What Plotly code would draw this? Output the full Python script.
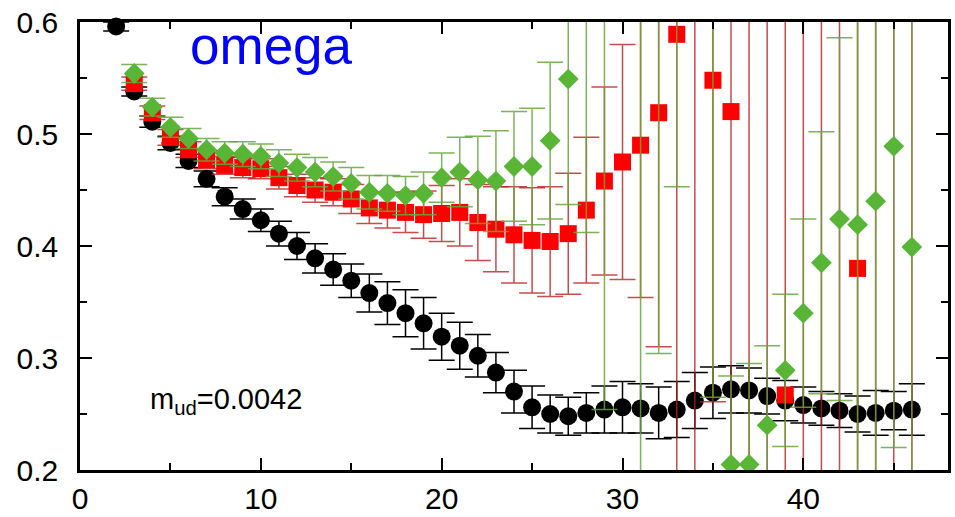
import plotly.graph_objects as go

# Effective-mass data, m_ud = 0.0042 (omega channel)
t_black = list(range(2, 47))
m_black = [0.596, 0.538, 0.511, 0.492, 0.476, 0.460, 0.444, 0.433, 0.423, 0.411,
           0.400, 0.389, 0.379, 0.369, 0.358, 0.349, 0.340, 0.331, 0.319, 0.311,
           0.302, 0.287, 0.270, 0.256, 0.250, 0.248, 0.251, 0.254, 0.256, 0.255,
           0.251, 0.254, 0.262, 0.269, 0.272, 0.271, 0.266, 0.262, 0.258, 0.255,
           0.253, 0.250, 0.251, 0.253, 0.254]
e_black = [0.004, 0.004, 0.005, 0.006, 0.006, 0.007, 0.008, 0.009, 0.010, 0.011,
           0.012, 0.013, 0.014, 0.015, 0.017, 0.019, 0.021, 0.023, 0.021, 0.021,
           0.019, 0.018, 0.019, 0.019, 0.017, 0.017, 0.018, 0.021, 0.023, 0.022,
           0.023, 0.025, 0.025, 0.023, 0.021, 0.020, 0.016, 0.018, 0.016, 0.015,
           0.015, 0.016, 0.020, 0.017, 0.023]

t_red = list(range(3, 47))
m_red = [0.545, 0.519, 0.497, 0.486, 0.477, 0.472, 0.470, 0.469, 0.461, 0.454,
         0.450, 0.448, 0.442, 0.434, 0.432, 0.430, 0.428, 0.429, 0.430, 0.421,
         0.415, 0.410, 0.405, 0.404, 0.411, 0.432, 0.458, 0.475, 0.490, 0.519,
         0.589, 0.700, 0.548, 0.520, 0.700, 0.700, 0.267, 0.700, 0.700, 0.700,
         0.380, 0.700, 0.700, 0.700]
e_red = [0.006, 0.006, 0.007, 0.007, 0.008, 0.008, 0.009, 0.009, 0.010, 0.010,
         0.011, 0.012, 0.013, 0.014, 0.016, 0.018, 0.021, 0.025, 0.030, 0.034,
         0.038, 0.043, 0.047, 0.049, 0.054, 0.065, 0.084, 0.105, 0.136, 0.209,
         0.450, 0.600, 0.287, 0.400, 0.600, 0.600, 0.450, 0.600, 0.600, 0.600,
         0.450, 0.600, 0.600, 0.600]

t_green = list(range(3, 47))
m_green = [0.554, 0.524, 0.506, 0.496, 0.486, 0.483, 0.482, 0.480, 0.474, 0.470,
           0.466, 0.462, 0.456, 0.448, 0.447, 0.445, 0.447, 0.461, 0.466, 0.459,
           0.458, 0.471, 0.471, 0.494, 0.549, 0.630, 0.640, None, 0.660, 0.650,
           0.680, None, 0.660, 0.205, 0.205, 0.240, 0.289, 0.340, 0.385, 0.424,
           0.419, 0.440, 0.489, 0.399]
e_green = [0.008, 0.008, 0.009, 0.009, 0.010, 0.010, 0.011, 0.011, 0.012, 0.012,
           0.013, 0.013, 0.014, 0.015, 0.016, 0.017, 0.019, 0.022, 0.031, 0.039,
           0.045, 0.049, 0.052, 0.070, 0.112, 0.218, 0.386, 0.0, 0.550, 0.346,
           0.227, 0.0, 0.395, 0.079, 0.090, 0.071, 0.068, 0.084, 0.117, 0.162,
           0.300, 0.300, 0.269, 0.300]

x_ticks = [0, 10, 20, 30, 40]
y_ticks = [0.2, 0.3, 0.4, 0.5, 0.6]

FONT = "Liberation Sans, Arial, Helvetica, sans-serif"

fig = go.Figure()

fig.add_trace(go.Scatter(
    x=t_black, y=m_black, mode="markers",
    marker=dict(symbol="circle", size=18, color="black"),
    error_y=dict(type="data", array=e_black, color="black", thickness=1.5, width=13),
    cliponaxis=False,
))
fig.add_trace(go.Scatter(
    x=t_red, y=m_red, mode="markers",
    marker=dict(symbol="square", size=17, color="#ff0000"),
    error_y=dict(type="data", array=e_red, color="rgba(185,30,30,0.8)", thickness=1.5, width=13),
))
fig.add_trace(go.Scatter(
    x=t_green, y=m_green, mode="markers",
    marker=dict(symbol="diamond", size=16, color="#58b535"),
    error_y=dict(type="data", array=e_green, color="rgba(105,165,60,0.85)", thickness=1.5, width=13),
))

axis_common = dict(
    showgrid=False, zeroline=False, showline=True, linecolor="black", linewidth=2.5,
    mirror="allticks", ticks="inside", ticklen=12, tickwidth=1.5, tickcolor="black",
    tickfont=dict(family=FONT, size=30, color="black"), automargin=False,
)

fig.update_xaxes(range=[0, 48], tickvals=x_ticks, ticklabelstandoff=0,
                 minor=dict(ticks="inside", ticklen=7, tickwidth=1.5, tickcolor="black",
                            tick0=0, dtick=5, showgrid=False),
                 **axis_common)
fig.update_yaxes(range=[0.2, 0.6], tickvals=y_ticks, tickformat=".1f", ticklabelstandoff=13,
                 minor=dict(ticks="inside", ticklen=7, tickwidth=1.5, tickcolor="black",
                            tick0=0.2, dtick=0.05, showgrid=False),
                 **axis_common)

fig.add_annotation(x=10.6, y=0.579, xref="x", yref="y", text="omega", showarrow=False,
                   xanchor="center", yanchor="middle",
                   font=dict(family=FONT, size=53, color="#0000ff"))
fig.add_annotation(x=3.76, y=0.262, xref="x", yref="y", text="m<sub>ud</sub>=0.0042",
                   showarrow=False, xanchor="left", yanchor="middle",
                   font=dict(family=FONT, size=29, color="black"))

fig.update_layout(
    width=955, height=517,
    margin=dict(l=80, r=7, t=22, b=47),
    plot_bgcolor="white", paper_bgcolor="white",
    showlegend=False,
)

fig.write_html("out.html")
